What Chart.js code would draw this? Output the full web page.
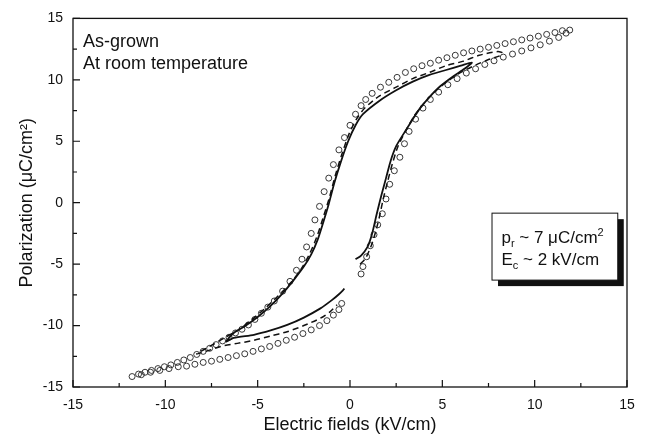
<!DOCTYPE html>
<html>
<head>
<meta charset="utf-8">
<script src="https://cdn.jsdelivr.net/npm/chart.js@4.4.0/dist/chart.umd.min.js"></script>
<style>
  html, body { margin: 0; padding: 0; background: #fff; }
  #wrap { width: 649px; height: 437px; }
</style>
</head>
<body>
<div id="wrap"><canvas id="loop"></canvas></div>
<script>
// solid loop (smallest field)
var solidE = [0.3, 0.6, 0.95, 1.2, 1.45, 1.7, 1.95, 2.2, 2.5, 2.9, 3.4, 3.8, 4.3, 4.9, 5.6, 6.2, 6.6,
  6.0, 5.2, 4.3, 3.4, 2.5, 1.6, 0.7, 0.3, -0.1, -0.5, -0.85, -1.15, -1.45, -1.75, -2.1, -2.5, -3.0, -3.6, -4.3, -5.0, -5.7, -6.3, -6.7,
  -6.3, -5.2, -4.3, -3.4, -2.5, -1.6, -1.0, -0.6, -0.3];
var solidP = [-4.6, -4.3, -3.6, -2.5, -0.9, 0.6, 2.0, 3.4, 4.6, 5.6, 6.8, 7.7, 8.6, 9.5, 10.3, 10.9, 11.4,
  11.15, 10.8, 10.4, 9.85, 9.15, 8.3, 7.2, 6.3, 5.0, 3.3, 1.6, -0.1, -1.6, -3.0, -4.2, -5.2, -6.2, -7.3, -8.4, -9.3, -10.05, -10.6, -11.3,
  -11.0, -10.75, -10.4, -9.95, -9.35, -8.6, -7.95, -7.45, -7.0];

// dashed loop (middle field)
var dashE = [0.55, 0.85, 1.15, 1.4, 1.6, 1.8, 2.05, 2.3, 2.6, 3.0, 3.45, 3.95, 4.5, 5.2, 6.0, 6.8, 7.5, 8.1, 8.25,
  8.0, 7.0, 6.1, 5.2, 4.3, 3.4, 2.5, 1.6, 0.8, 0.35, -0.05, -0.45, -0.8, -1.1, -1.45, -1.8, -2.2, -2.65, -3.2, -3.9, -4.6, -5.3, -6.0, -6.8, -7.6, -8.3,
  -7.8, -7.0, -6.1, -5.2, -4.3, -3.4, -2.5, -1.6, -1.1, -0.7];
var dashP = [-5.0, -4.5, -3.5, -2.3, -1.1, 0.3, 1.8, 3.2, 4.6, 5.8, 7.0, 8.0, 8.9, 9.8, 10.6, 11.2, 11.65, 11.95, 12.2,
  12.3, 12.0, 11.5, 11.15, 10.6, 10.1, 9.4, 8.7, 7.7, 6.8, 5.6, 3.9, 2.2, 0.5, -1.2, -2.8, -4.2, -5.4, -6.5, -7.6, -8.6, -9.5, -10.3, -11.0, -11.7, -12.3,
  -12.1, -11.7, -11.45, -11.2, -10.85, -10.5, -10.0, -9.4, -8.9, -8.3];

// open circles (largest field)
var circE = [0.6, 0.7, 0.9, 1.1, 1.3, 1.5, 1.75, 1.95, 2.15, 2.4, 2.7, 2.95, 3.2, 3.55, 3.95, 4.35, 4.8, 5.3, 5.8, 6.3,
  6.8, 7.3, 7.8, 8.3, 8.8, 9.3, 9.8, 10.3, 10.8, 11.3, 11.7,
  11.9, 11.5, 11.1, 10.65, 10.2, 9.75, 9.3, 8.85, 8.4, 7.95, 7.5, 7.05, 6.6, 6.15, 5.7, 5.25, 4.8, 4.35, 3.9, 3.45,
  3.0, 2.55, 2.1, 1.65, 1.2, 0.85, 0.6, 0.3, 0.0, -0.3, -0.6, -0.9, -1.15, -1.4, -1.65, -1.9, -2.1, -2.35, -2.6,
  -2.9, -3.25, -3.65, -4.1, -4.45, -4.8, -5.15, -5.5, -5.85, -6.2, -6.55, -6.9, -7.25, -7.6, -7.95, -8.3, -8.65,
  -9.0, -9.35, -9.7, -10.05, -10.4, -10.75, -11.1, -11.45,
  -11.8, -11.3, -10.8, -10.3, -9.8, -9.3, -8.85, -8.4, -7.95, -7.5, -7.05, -6.6, -6.15, -5.7, -5.25, -4.8,
  -4.35, -3.9, -3.45, -3.0, -2.55, -2.1, -1.65, -1.25, -0.9, -0.6, -0.45];
var circP = [-5.8, -5.2, -4.4, -3.5, -2.6, -1.8, -0.9, 0.3, 1.5, 2.6, 3.7, 4.8, 5.8, 6.8, 7.7, 8.4, 9.0, 9.6, 10.1, 10.55,
  10.9, 11.25, 11.55, 11.85, 12.1, 12.35, 12.6, 12.85, 13.15, 13.45, 13.8,
  14.05, 14.0, 13.85, 13.7, 13.55, 13.4, 13.25, 13.1, 12.95, 12.8, 12.65, 12.5, 12.35, 12.2, 12.0, 11.8, 11.6, 11.35, 11.15, 10.9,
  10.6, 10.2, 9.8, 9.4, 8.9, 8.4, 7.9, 7.2, 6.3, 5.3, 4.3, 3.1, 2.0, 0.9, -0.3, -1.4, -2.5, -3.6, -4.6,
  -5.5, -6.4, -7.2, -8.0, -8.5, -9.0, -9.5, -9.95, -10.3, -10.6, -10.95, -11.25, -11.55, -11.85, -12.1, -12.35, -12.6,
  -12.8, -13.0, -13.2, -13.35, -13.5, -13.65, -13.8, -13.95,
  -14.15, -14.0, -13.8, -13.65, -13.5, -13.35, -13.3, -13.15, -13.0, -12.9, -12.75, -12.6, -12.45, -12.3, -12.1, -11.9,
  -11.7, -11.45, -11.2, -10.95, -10.65, -10.35, -10.0, -9.6, -9.15, -8.7, -8.2];

var axisMin = -15, axisMax = 15, axisStep = 5;

function pairs(xs, ys) {
  return xs.map(function(v, i) { return { x: v, y: ys[i] }; });
}

var fontFam = '"Liberation Sans", Arial, sans-serif';

var frame = {
  id: 'frame',
  afterDraw: function(chart) {
    var ctx = chart.ctx, a = chart.chartArea, sx = chart.scales.x, sy = chart.scales.y;
    ctx.save();
    ctx.strokeStyle = '#111';
    ctx.lineWidth = 1.3;
    ctx.strokeRect(a.left, a.top, a.right - a.left, a.bottom - a.top);
    ctx.lineWidth = 1.2;
    for (var v = axisMin; v <= axisMax; v += 2.5) {
      var len = (v % 5 === 0) ? 7 : 4;
      var px = sx.getPixelForValue(v), py = sy.getPixelForValue(v);
      ctx.beginPath();
      ctx.moveTo(px, a.bottom); ctx.lineTo(px, a.bottom - len);
      ctx.moveTo(a.left, py); ctx.lineTo(a.left + len, py);
      ctx.stroke();
    }

    // top-left note
    ctx.fillStyle = '#111';
    ctx.font = '18px ' + fontFam;
    ctx.textBaseline = 'alphabetic';
    ctx.textAlign = 'left';
    ctx.fillText('As-grown', sx.getPixelForValue(-14.46), sy.getPixelForValue(12.64));
    ctx.fillText('At room temperature', sx.getPixelForValue(-14.46), sy.getPixelForValue(10.85));

    // boxed note with shadow
    var bl = sx.getPixelForValue(7.69), br = sx.getPixelForValue(14.5);
    var bt = sy.getPixelForValue(-0.85), bb = sy.getPixelForValue(-6.3);
    ctx.fillStyle = '#111';
    ctx.fillRect(bl + 6, bt + 6, br - bl, bb - bt);
    ctx.fillStyle = '#fff';
    ctx.fillRect(bl, bt, br - bl, bb - bt);
    ctx.strokeStyle = '#111';
    ctx.lineWidth = 1;
    ctx.strokeRect(bl, bt, br - bl, bb - bt);

    ctx.fillStyle = '#111';
    var tx = sx.getPixelForValue(8.2);
    var y1 = sy.getPixelForValue(-3.3), y2 = sy.getPixelForValue(-5.1);
    var big = '17px ' + fontFam, small = '11px ' + fontFam;
    ctx.font = big; ctx.fillText('p', tx, y1);
    var w = ctx.measureText('p').width;
    ctx.font = small; ctx.fillText('r', tx + w, y1 + 4);
    w += ctx.measureText('r').width;
    ctx.font = big; ctx.fillText(' ~ 7 \u03bcC/cm', tx + w, y1);
    w += ctx.measureText(' ~ 7 \u03bcC/cm').width;
    ctx.font = small; ctx.fillText('2', tx + w, y1 - 7);

    ctx.font = big; ctx.fillText('E', tx, y2);
    w = ctx.measureText('E').width;
    ctx.font = small; ctx.fillText('c', tx + w, y2 + 4);
    w += ctx.measureText('c').width;
    ctx.font = big; ctx.fillText(' ~ 2 kV/cm', tx + w, y2);
    ctx.restore();
  }
};

var tickFont = { family: fontFam, size: 14 };
var titleFont = { family: fontFam, size: 18 };

new Chart(document.getElementById('loop'), {
  type: 'scatter',
  data: {
    datasets: [{
      label: 'solid',
      data: pairs(solidE, solidP),
      showLine: true,
      borderColor: '#111',
      borderWidth: 1.8,
      pointRadius: 0,
      tension: 0.25
    }, {
      label: 'dashed',
      data: pairs(dashE, dashP),
      showLine: true,
      borderColor: '#111',
      borderWidth: 1.5,
      borderDash: [6, 4],
      pointRadius: 0,
      tension: 0.25
    }, {
      label: 'circles',
      data: pairs(circE, circP),
      showLine: false,
      pointRadius: 3,
      pointBorderWidth: 0.9,
      pointBorderColor: '#222',
      pointBackgroundColor: 'rgba(0,0,0,0)'
    }]
  },
  options: {
    responsive: true,
    maintainAspectRatio: false,
    animation: false,
    layout: { padding: { top: 18, right: 22, left: 0, bottom: 0 } },
    plugins: { legend: { display: false }, tooltip: { enabled: false } },
    scales: {
      x: {
        type: 'linear',
        min: axisMin, max: axisMax,
        grid: { display: false, drawTicks: false },
        border: { display: false },
        ticks: { stepSize: axisStep, font: tickFont, color: '#111', padding: 10 },
        title: { display: true, text: 'Electric fields (kV/cm)', font: titleFont, color: '#111', padding: { top: 4, bottom: 1 } },
        afterFit: function(s) { s.height = 50; }
      },
      y: {
        type: 'linear',
        min: axisMin, max: axisMax,
        grid: { display: false, drawTicks: false },
        border: { display: false },
        ticks: { stepSize: axisStep, font: tickFont, color: '#111', padding: 10 },
        title: { display: true, text: 'Polarization (\u03bcC/cm\u00b2)', font: titleFont, color: '#111', padding: { top: 16, bottom: 0 } },
        afterFit: function(s) { s.width = 73; }
      }
    }
  },
  plugins: [frame]
});
</script>
</body>
</html>
